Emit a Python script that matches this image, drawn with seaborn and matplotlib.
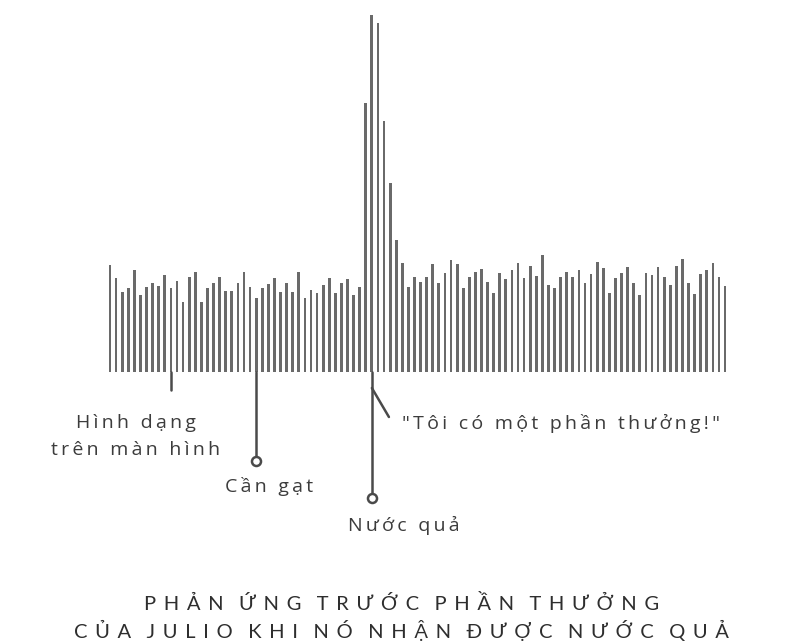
import numpy as np
import pandas as pd
import matplotlib
matplotlib.use('Agg')
import matplotlib.pyplot as plt
import seaborn as sns

# bar heights (pixels above baseline)
heights = [107, 94, 80, 84, 102, 77, 85, 89, 86, 97, 84, 91, 70, 95, 100, 70, 84, 89, 95, 81,
           81, 89, 100, 85, 74, 84, 88, 94, 80, 89, 80, 100, 74, 82, 79, 87, 94, 79, 89, 93,
           77, 85, 269, 357, 349, 251, 189, 132, 109, 85, 95, 90, 95, 108, 89, 99, 112, 108, 84, 95,
           100, 103, 90, 79, 99, 93, 102, 109, 94, 106, 96, 117, 87, 84, 95, 100, 95, 102, 89, 98,
           110, 104, 79, 94, 99, 105, 89, 77, 99, 97, 105, 95, 87, 106, 113, 89, 78, 98, 102, 109,
           95, 86]
idx_screen = 10    # "Hình dạng trên màn hình"
idx_lever = 24     # "Cần gạt"
idx_juice = 43     # "Nước quả"

labels = ["Hình dạng", "trên màn hình", "Cần gạt", "Nước quả", '"Tôi có một phần thưởng!"']
title_lines = ["PHẢN ỨNG TRƯỚC PHẦN THƯỞNG", "CỦA JULIO KHI NÓ NHẬN ĐƯỢC NƯỚC QUẢ"]

df = pd.DataFrame({'pos': np.arange(len(heights)), 'h': heights})

sns.set_style('white')
plt.rcParams['font.family'] = ['Open Sans', 'DejaVu Sans']

fig = plt.figure(figsize=(8.02, 6.44), dpi=100)
ax = fig.add_axes([0, 0, 1, 1])

sns.barplot(data=df, x='pos', y='h', native_scale=True, width=0.45,
            color='#6a6a6a', saturation=1, linewidth=0, edgecolor='none', ax=ax)

# map picture pixels to data units: bar i at x = 110 + 6.09 i, baseline at y = 372
step = 6.09
ax.set_xlim(-110 / step, (802 - 110) / step)
ax.set_ylim(372 - 644, 372)
ax.set_axis_off()

line_col = '#4a4a4a'
txt_col = '#3c3c3c'
fs = 14


def track(s, sep='\u2009'):
    # loose letter spacing like the original typesetting
    return sep.join(s)


def label(x, y, s, ha='center'):
    ax.text(x, y, track(s), ha=ha, va='center', fontsize=fs, color=txt_col)


# short tick under screen shape
ax.plot([idx_screen, idx_screen], [0, -18], color=line_col, lw=1.8)
label(idx_screen - 5.8, -51, labels[0])
label(idx_screen - 5.8, -78, labels[1])

# lever
ax.plot([idx_lever, idx_lever], [0, -85], color=line_col, lw=1.8)
ax.plot(idx_lever, -89, marker='o', ms=6.5, mfc='white', mec=line_col, mew=1.8)
label(idx_lever + 2.2, -115, labels[2])

# juice
ax.plot([idx_juice, idx_juice], [0, -121], color=line_col, lw=1.8)
ax.plot(idx_juice, -126, marker='o', ms=6.5, mfc='white', mec=line_col, mew=1.8)
label(idx_juice - 4.0, -153, labels[3], ha='left')

# reward thought
ax.plot([idx_juice, idx_juice + 2.8], [-16, -45], color=line_col, lw=1.8)
label(idx_juice + 5.0, -51, labels[4], ha='left')


# spaced-out caption
def spaced(s):
    return '   '.join(' \u2009'.join(w) for w in s.split(' '))


for k, line in enumerate(title_lines):
    ax.text(47.8, -231 - 27 * k, spaced(line), ha='center', va='center', fontsize=14.5,
            color='#2e2e2e', family=['Lato', 'DejaVu Sans'])

fig.savefig('out.png', dpi=100, facecolor='white')
